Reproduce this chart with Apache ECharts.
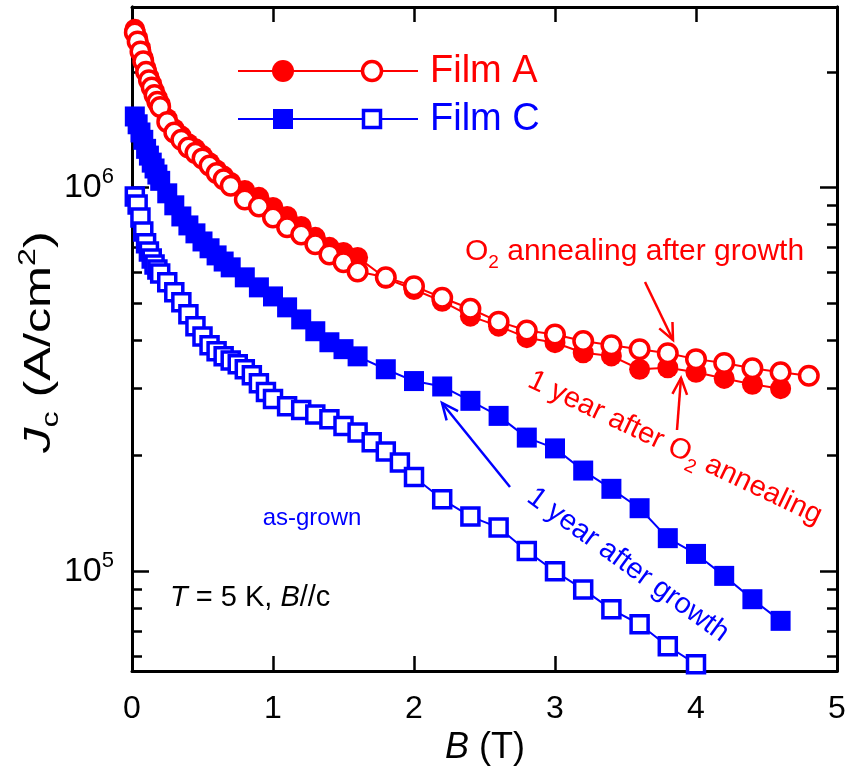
<!DOCTYPE html>
<html><head><meta charset="utf-8">
<script src="https://cdn.jsdelivr.net/npm/echarts@6/dist/echarts.min.js"></script>
<style>html,body{margin:0;padding:0;background:#fff}#c{width:849px;height:782px}</style>
</head><body><div id="c"></div>
<script>
// ---- data (B in tesla, Jc in A/cm^2) ----
const filmA_annealed_B = [0.02,0.04,0.06,0.08,0.10,0.12,0.14,0.16,0.18,0.20,0.25,0.30,0.35,0.40,0.45,0.50,0.55,0.60,0.65,0.70,0.8,0.9,1.0,1.1,1.2,1.3,1.4,1.5,1.6,1.8,2.0,2.2,2.4,2.6,2.8,3.0,3.2,3.4,3.6,3.8,4.0,4.2,4.4,4.6,4.8];
const filmA_annealed_J = [2.53e6,2.40e6,2.26e6,2.13e6,2.00e6,1.90e6,1.82e6,1.74e6,1.67e6,1.62e6,1.48e6,1.39e6,1.33e6,1.27e6,1.23e6,1.19e6,1.14e6,1.09e6,1.05e6,1.01e6,9.30e5,8.92e5,8.35e5,7.87e5,7.54e5,7.11e5,6.69e5,6.38e5,6.04e5,5.83e5,5.53e5,5.16e5,4.83e5,4.47e5,4.24e5,4.14e5,3.98e5,3.88e5,3.79e5,3.70e5,3.57e5,3.49e5,3.38e5,3.30e5,3.23e5];
const filmA_1yr_B = [0.02,0.04,0.06,0.08,0.10,0.12,0.14,0.16,0.18,0.20,0.25,0.30,0.35,0.40,0.45,0.50,0.55,0.60,0.65,0.70,0.8,0.9,1.0,1.1,1.2,1.3,1.4,1.5,1.6,1.8,2.0,2.2,2.4,2.6,2.8,3.0,3.2,3.4,3.6,3.8,4.0,4.2,4.4,4.6];
const filmA_1yr_J = [2.58e6,2.45e6,2.31e6,2.17e6,2.04e6,1.94e6,1.86e6,1.78e6,1.71e6,1.65e6,1.51e6,1.42e6,1.36e6,1.30e6,1.26e6,1.21e6,1.16e6,1.11e6,1.07e6,1.03e6,9.82e5,9.42e5,8.87e5,8.40e5,7.91e5,7.41e5,6.98e5,6.77e5,6.57e5,5.80e5,5.42e5,5.05e5,4.62e5,4.35e5,4.06e5,3.94e5,3.71e5,3.64e5,3.36e5,3.39e5,3.30e5,3.18e5,3.07e5,2.99e5];
const filmC_1yr_B = [0.02,0.04,0.06,0.08,0.10,0.12,0.14,0.16,0.18,0.20,0.25,0.30,0.35,0.40,0.45,0.50,0.55,0.60,0.65,0.70,0.8,0.9,1.0,1.1,1.2,1.3,1.4,1.5,1.6,1.8,2.0,2.2,2.4,2.6,2.8,3.0,3.2,3.4,3.6,3.8,4.0,4.2,4.4,4.6];
const filmC_1yr_J = [1.53e6,1.46e6,1.39e6,1.33e6,1.26e6,1.21e6,1.16e6,1.12e6,1.08e6,1.04e6,9.65e5,8.98e5,8.40e5,7.96e5,7.59e5,7.23e5,6.94e5,6.65e5,6.41e5,6.19e5,5.83e5,5.49e5,5.20e5,4.87e5,4.53e5,4.22e5,3.95e5,3.79e5,3.63e5,3.36e5,3.13e5,3.03e5,2.78e5,2.54e5,2.23e5,2.09e5,1.83e5,1.64e5,1.46e5,1.22e5,1.11e5,9.73e4,8.46e4,7.43e4];
const filmC_asgrown_B = [0.02,0.04,0.06,0.08,0.10,0.12,0.14,0.16,0.18,0.20,0.25,0.30,0.35,0.40,0.45,0.50,0.55,0.60,0.65,0.70,0.75,0.80,0.85,0.90,0.95,1.0,1.1,1.2,1.3,1.4,1.5,1.6,1.7,1.8,1.9,2.0,2.2,2.4,2.6,2.8,3.0,3.2,3.4,3.6,3.8,4.0];
const filmC_asgrown_J = [9.47e5,9.03e5,8.35e5,7.68e5,7.15e5,6.81e5,6.53e5,6.30e5,6.11e5,5.97e5,5.66e5,5.33e5,5.02e5,4.67e5,4.35e5,4.09e5,3.88e5,3.74e5,3.63e5,3.54e5,3.46e5,3.36e5,3.24e5,3.09e5,2.93e5,2.81e5,2.69e5,2.63e5,2.56e5,2.49e5,2.39e5,2.30e5,2.17e5,2.05e5,1.92e5,1.76e5,1.54e5,1.39e5,1.30e5,1.13e5,1.00e5,8.97e4,7.96e4,7.28e4,6.38e4,5.73e4];
const xTicks = [0,1,2,3,4,5];
const yMajorTicks = [1e5,1e6];
const yMinorTicks = [6e4,7e4,8e4,9e4,2e5,3e5,4e5,5e5,6e5,7e5,8e5,9e5,2e6];
const Y_MIN = 5.5e4, Y_MAX = 2.95e6;

const RED = '#ff0000', BLUE = '#0000ff';
const FONT = 'Liberation Sans, Arial, sans-serif';
const NFONT = '"Liberation Sans Narrow", "Liberation Sans", Arial, sans-serif';
const zip = (a,b) => a.map((v,i)=>[v,b[i]]);

const chart = echarts.init(document.getElementById('c'), null, {renderer:'canvas'});
const axLine = {show:true, lineStyle:{color:'#000', width:3}};
function yAx(pos, ticks, len, labels){
  return {type:'log', logBase:10, min:Y_MIN, max:Y_MAX, position:pos,
    axisLine:axLine,
    axisTick:{show:true, inside:true, length:len, customValues:ticks, lineStyle:{color:'#000', width:2.5}},
    axisLabel: labels ? {show:true, customValues:yMajorTicks, margin:18, color:'#000', fontFamily:NFONT,
        formatter: v => '{b|10}{s|' + Math.round(Math.log10(v)) + '}',
        rich:{b:{fontSize:34, fontFamily:NFONT, color:'#000', lineHeight:42},
              s:{fontSize:22, fontFamily:NFONT, color:'#000', verticalAlign:'top', lineHeight:42}}}
      : {show:false},
    splitLine:{show:false}, minorTick:{show:false}};
}
function xAx(pos, labels){
  return {type:'value', min:0, max:5, interval:1, position:pos,
    axisLine:axLine,
    axisTick:{show:true, inside:true, length:15, lineStyle:{color:'#000', width:2.5}},
    axisLabel: labels ? {show:true, margin:22, fontSize:32, color:'#000', fontFamily:NFONT} : {show:false},
    splitLine:{show:false}};
}
function ser(B, J, sym, size, color, open, z){
  return {type:'line', xAxisIndex:0, yAxisIndex:0, data:zip(B,J), symbol:sym, symbolSize:size,
    showAllSymbol:true, z:z,
    itemStyle: open ? {color:'#fff', borderColor:color, borderWidth:3.5} : {color:color, borderWidth:0},
    lineStyle:{color:color, width:2}, emphasis:{disabled:true}};
}

chart.setOption({
  animation:false,
  grid:{left:132, right:12, top:7, bottom:111},
  xAxis:[xAx('bottom', true), xAx('top', false)],
  yAxis:[yAx('left', yMajorTicks, 17, true), yAx('left', yMinorTicks, 10, false),
         yAx('right', yMajorTicks, 17, false), yAx('right', yMinorTicks, 10, false)],
  series:[
    ser(filmC_1yr_B, filmC_1yr_J, 'rect', 20, BLUE, false, 2),
    ser(filmC_asgrown_B, filmC_asgrown_J, 'rect', 17, BLUE, true, 3),
    ser(filmA_1yr_B, filmA_1yr_J, 'circle', 21, RED, false, 4),
    ser(filmA_annealed_B, filmA_annealed_J, 'circle', 18.5, RED, true, 5)
  ]
});

function arrow(x0,y0,x1,y1,color){
  const a = Math.atan2(y1-y0, x1-x0), L = 18, h = 0.42;
  const p1 = [x1 - L*Math.cos(a-h), y1 - L*Math.sin(a-h)];
  const p2 = [x1 - L*Math.cos(a+h), y1 - L*Math.sin(a+h)];
  return [
    {type:'line', silent:true, z:50, shape:{x1:x0,y1:y0,x2:x1,y2:y1}, style:{stroke:color, lineWidth:2.5}},
    {type:'polyline', silent:true, z:50, shape:{points:[p1,[x1,y1],p2]}, style:{stroke:color, lineWidth:2.5, fill:null}}
  ];
}
const g = [];
// legend
g.push({type:'line', z:50, shape:{x1:238,y1:71,x2:418,y2:71}, style:{stroke:RED, lineWidth:2}});
g.push({type:'circle', z:51, shape:{cx:283,cy:71,r:11}, style:{fill:RED}});
g.push({type:'circle', z:51, shape:{cx:372,cy:71,r:9.5}, style:{fill:'#fff', stroke:RED, lineWidth:3.5}});
g.push({type:'text', z:51, x:430, y:72, style:{text:'Film A', fill:RED, font:'38px '+FONT, verticalAlign:'middle', align:'left'}});
g.push({type:'line', z:50, shape:{x1:238,y1:119,x2:418,y2:119}, style:{stroke:BLUE, lineWidth:2}});
g.push({type:'rect', z:51, shape:{x:273,y:109,width:20,height:20}, style:{fill:BLUE}});
g.push({type:'rect', z:51, shape:{x:363.5,y:110.5,width:17,height:17}, style:{fill:'#fff', stroke:BLUE, lineWidth:3.5}});
g.push({type:'text', z:51, x:430, y:120, style:{text:'Film C', fill:BLUE, font:'38px '+FONT, verticalAlign:'middle', align:'left'}});
// annotations
g.push({type:'text', z:52, x:465, y:252, style:{text:'O{s|2} annealing after growth', fill:RED, font:'30px '+FONT, verticalAlign:'middle',
  rich:{s:{fontSize:19, fill:RED, verticalAlign:'bottom', lineHeight:40, fontFamily:FONT}}}});
g.push({type:'text', z:52, x:675, y:448, rotation:-25.5*Math.PI/180, style:{text:'1 year after O{s|2} annealing', fill:RED, font:'29px '+FONT, align:'center', verticalAlign:'middle',
  rich:{s:{fontSize:19, fill:RED, verticalAlign:'bottom', lineHeight:40, fontFamily:FONT}}}});
g.push({type:'text', z:52, x:628, y:565, rotation:-36*Math.PI/180, style:{text:'1 year after growth', fill:BLUE, font:'29px '+FONT, align:'center', verticalAlign:'middle'}});
g.push({type:'text', z:52, x:312, y:518, style:{text:'as-grown', fill:BLUE, font:'24px '+FONT, align:'center', verticalAlign:'middle'}});
g.push({type:'text', z:52, x:170, y:598, style:{text:'{i|T} = 5 K, {i|B}//c', fill:'#000', font:'29px '+FONT, align:'left', verticalAlign:'middle',
  rich:{i:{fontStyle:'italic', fontSize:29, fontFamily:FONT, fill:'#000'}}}});
g.push(...arrow(645,282,673,340,RED));
g.push(...arrow(677,430,681,378,RED));
g.push(...arrow(510,487,442,403,BLUE));
// axis titles
g.push({type:'text', z:52, x:485, y:748, style:{text:'{i|B} (T)', fill:'#000', font:'36px '+FONT, align:'center', verticalAlign:'middle',
  rich:{i:{fontStyle:'italic', fontSize:36, fontFamily:FONT, fill:'#000'}}}});
g.push({type:'text', z:52, x:40, y:342, rotation:Math.PI/2, scaleX:1.4, style:{text:'{i|J}{s|c} (A/cm{p|2})', fill:'#000', font:'36px '+FONT, align:'center', verticalAlign:'middle',
  rich:{i:{fontStyle:'italic', fontSize:36, fontFamily:FONT, fill:'#000', lineHeight:46},
        s:{fontSize:23, fontFamily:FONT, fill:'#000', verticalAlign:'bottom', lineHeight:46},
        p:{fontSize:23, fontFamily:FONT, fill:'#000', verticalAlign:'top', lineHeight:46}}}});
chart.setOption({graphic:g});
</script></body></html>
